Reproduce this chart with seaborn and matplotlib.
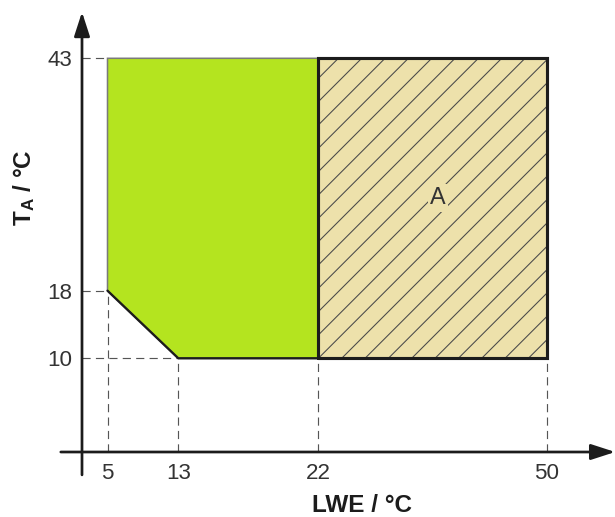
import numpy as np
import matplotlib
matplotlib.use("Agg")
import matplotlib.pyplot as plt
import seaborn as sns

# ---- data ----
lwe_ticks = [5, 13, 22, 50]
ta_ticks = [10, 18, 43]
green_lwe = [5, 5, 13, 22, 22, 5]
green_ta = [43, 18, 10, 10, 43, 43]
lower_edge_lwe = [5, 13, 22]
lower_edge_ta = [18, 10, 10]
area_a_lwe = [22, 50]
area_a_ta = [10, 43]
area_a_label = "A"
area_a_label_pos = (36.7, 28.0)

sns.set_theme(style="white")
plt.rcParams["font.family"] = ["Liberation Sans", "DejaVu Sans"]
plt.rcParams["mathtext.fontset"] = "custom"
plt.rcParams["mathtext.rm"] = "Liberation Sans:bold"
plt.rcParams["mathtext.bf"] = "Liberation Sans:bold"
plt.rcParams["mathtext.it"] = "Liberation Sans:bold"
plt.rcParams["hatch.linewidth"] = 0.55

DPI = 140
W, H = 615, 517


def piecewise(xs, ts):
    xs = np.asarray(xs, float)
    ts = np.asarray(ts, float)

    def _map(v, a, b):
        v = np.asarray(v, float)
        out = np.interp(v, a, b)
        s0 = (b[1] - b[0]) / (a[1] - a[0])
        s1 = (b[-1] - b[-2]) / (a[-1] - a[-2])
        out = np.where(v < a[0], b[0] + (v - a[0]) * s0, out)
        out = np.where(v > a[-1], b[-1] + (v - a[-1]) * s1, out)
        return out

    def fwd(v):
        return _map(v, xs, ts)

    def inv(v):
        return _map(v, ts, xs)

    return fwd, inv


# schematic (non-uniform) axis layout, in pixel units
fx, gx = piecewise(lwe_ticks, [107.5, 178.3, 318.3, 546.7])
fy, gy = piecewise(ta_ticks, [-358.3, -290.7, -58.3])

fig = plt.figure(figsize=(W / DPI, H / DPI), dpi=DPI)
x0, x1, yb, yt = 82, 612, 452, 12
ax = fig.add_axes([x0 / W, (H - yb) / H, (x1 - x0) / W, (yb - yt) / H])
ax.set_xscale("function", functions=(fx, gx))
ax.set_yscale("function", functions=(fy, gy))
ax.set_xlim(float(gx(x0)), float(gx(x1)))
ax.set_ylim(float(gy(-yb)), float(gy(-yt)))

green = "#b4e41f"
tan = "#ede1ab"
dark = "#1c1c1c"
dash_col = "#555555"

# dashed guide lines
dash = (0, (7, 4.5))
xlo = ax.get_xlim()[0]
ylo = ax.get_ylim()[0]
ax.plot([xlo, green_lwe[0]], [ta_ticks[2], ta_ticks[2]], color=dash_col, lw=0.6, ls=dash, zorder=1)
ax.plot([xlo, lower_edge_lwe[0]], [ta_ticks[1], ta_ticks[1]], color=dash_col, lw=0.6, ls=dash, zorder=1)
ax.plot([xlo, lower_edge_lwe[1]], [ta_ticks[0], ta_ticks[0]], color=dash_col, lw=0.6, ls=dash, zorder=1)
ax.plot([lwe_ticks[0], lwe_ticks[0]], [ylo, lower_edge_ta[0]], color=dash_col, lw=0.6, ls=dash, zorder=1)
for xv in lwe_ticks[1:]:
    ax.plot([xv, xv], [ylo, ta_ticks[0]], color=dash_col, lw=0.6, ls=dash, zorder=1)

# green region
ax.fill(green_lwe, green_ta, facecolor=green, edgecolor="#7a7a7a", lw=0.8, zorder=2)
sns.lineplot(x=lower_edge_lwe, y=lower_edge_ta, sort=False, estimator=None,
             color=dark, lw=1.2, ax=ax, zorder=3)

# area A (hatched)
ax.fill_between(area_a_lwe, [area_a_ta[0]] * 2, [area_a_ta[1]] * 2,
                facecolor=tan, edgecolor="#4a4a4a", hatch="//", lw=0, zorder=2)
box_x = [area_a_lwe[0], area_a_lwe[1], area_a_lwe[1], area_a_lwe[0], area_a_lwe[0]]
box_y = [area_a_ta[0], area_a_ta[0], area_a_ta[1], area_a_ta[1], area_a_ta[0]]
sns.lineplot(x=box_x, y=box_y, sort=False, estimator=None, color=dark, lw=1.6, ax=ax, zorder=4)
ax.lines[-1].set_solid_joinstyle("miter")
ax.text(area_a_label_pos[0], area_a_label_pos[1], area_a_label, fontsize=12,
        color="#333333", ha="center", va="center", zorder=5,
        bbox=dict(boxstyle="square,pad=0.1", fc=tan, ec="none"))

# axes with arrows
for s in ax.spines.values():
    s.set_visible(False)
arrow = dict(arrowstyle="-|>,head_length=1.05,head_width=0.34", lw=1.4, color=dark,
             shrinkA=0, shrinkB=0, mutation_scale=10)
ax.annotate("", xy=(1.006, 0), xytext=(-0.04, 0), xycoords="axes fraction",
            textcoords="axes fraction", arrowprops=arrow, annotation_clip=False)
ax.annotate("", xy=(0, 1.0), xytext=(0, -0.052), xycoords="axes fraction",
            textcoords="axes fraction", arrowprops=arrow, annotation_clip=False)

ax.set_xticks(lwe_ticks)
ax.set_xticklabels([str(v) for v in lwe_ticks])
ax.set_yticks(ta_ticks)
ax.set_yticklabels([str(v) for v in ta_ticks])
ax.minorticks_off()
ax.tick_params(length=0, labelsize=11.5, labelcolor="#333333")
ax.tick_params(axis="x", pad=5.5)
ax.tick_params(axis="y", pad=5)
ax.grid(False)

fig.text(362 / W, 1 - 506 / H, "LWE / °C", fontsize=12.5, fontweight="bold",
         color=dark, ha="center", va="center")
fig.text(24 / W, 1 - 188 / H, r"$\mathrm{T_A}$ / °C", fontsize=12.5, fontweight="bold",
         color=dark, ha="center", va="center", rotation=90)

fig.savefig("out.png", dpi=DPI)
